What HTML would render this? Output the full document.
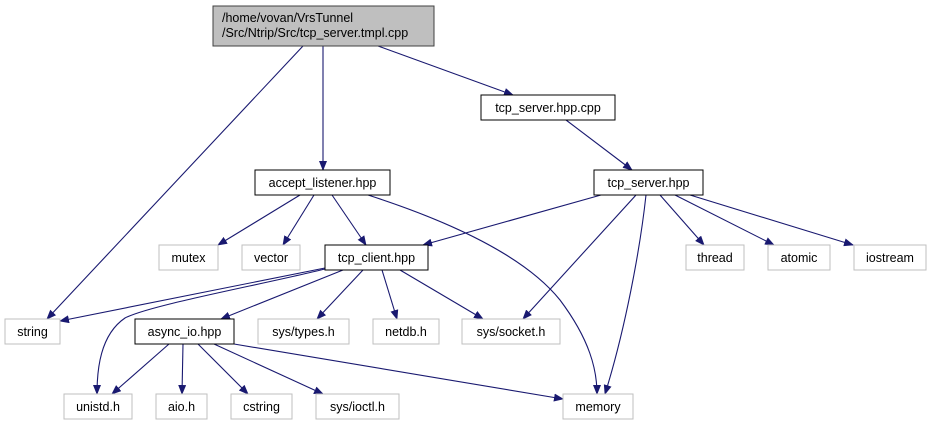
<!DOCTYPE html>
<html><head><style>body{margin:0;background:#fff}</style></head><body>
<svg width="931" height="425" xmlns="http://www.w3.org/2000/svg" font-family="Liberation Sans, sans-serif" font-size="12.5">
<defs><marker id="a" markerWidth="10" markerHeight="8" refX="9" refY="4" orient="auto" markerUnits="userSpaceOnUse"><path d="M0,0L10,4L0,8z" fill="#191970"/></marker></defs>
<g stroke="#191970" stroke-width="1.1" fill="none" marker-end="url(#a)">
<path d="M303,46L47,319"/>
<path d="M323,46L323,170"/>
<path d="M378,46L513,95"/>
<path d="M566,120L632,170"/>
<path d="M300,195L218,245"/>
<path d="M314,195L283,245"/>
<path d="M332,195L366,245"/>
<path d="M368,195C430,215 520,250 560,300C590,340 597,370 597,394"/>
<path d="M601,195L423,245"/>
<path d="M636,195L523,319"/>
<path d="M646,195C640,250 625,330 605,394"/>
<path d="M660,195L704,245"/>
<path d="M675,195L774,245"/>
<path d="M690,195L853,245"/>
<path d="M325,268L60,321"/>
<path d="M325,269C260,285 150,305 125,318C100,335 97,370 97,394"/>
<path d="M343,270L221,319"/>
<path d="M363,270L317,319"/>
<path d="M382,270L397,319"/>
<path d="M400,270L483,319"/>
<path d="M169,344L112,394"/>
<path d="M183,344L182,394"/>
<path d="M198,344L248,394"/>
<path d="M214,344L323,394"/>
<path d="M234,344L563,399"/>
</g>
<g stroke-width="1">
<rect x="213" y="6" width="221" height="40" fill="#bfbfbf" stroke="#404040"/>
<g fill="#fff" stroke="#000">
<rect x="255" y="170" width="135" height="25"/>
<rect x="325" y="245" width="103" height="25"/>
<rect x="135" y="319" width="99" height="25"/>
<rect x="481" y="95" width="134" height="25"/>
<rect x="594" y="170" width="109" height="25"/>
</g>
<g fill="#fff" stroke="#bfbfbf">
<rect x="159" y="245" width="59" height="25"/>
<rect x="242" y="245" width="58" height="25"/>
<rect x="5" y="319" width="55" height="25"/>
<rect x="258" y="319" width="91" height="25"/>
<rect x="373" y="319" width="66" height="25"/>
<rect x="462" y="319" width="98" height="25"/>
<rect x="64" y="394" width="68" height="25"/>
<rect x="156" y="394" width="51" height="25"/>
<rect x="231" y="394" width="61" height="25"/>
<rect x="316" y="394" width="83" height="25"/>
<rect x="563" y="394" width="70" height="25"/>
<rect x="686" y="245" width="58" height="25"/>
<rect x="768" y="245" width="62" height="25"/>
<rect x="854" y="245" width="72" height="25"/>
</g></g>
<g fill="#000">
<text x="222" y="22">/home/vovan/VrsTunnel</text>
<text x="222" y="37">/Src/Ntrip/Src/tcp_server.tmpl.cpp</text>
</g>
<g fill="#000" text-anchor="middle">
<text x="322.5" y="187">accept_listener.hpp</text>
<text x="376.5" y="262">tcp_client.hpp</text>
<text x="184.5" y="336">async_io.hpp</text>
<text x="548" y="112">tcp_server.hpp.cpp</text>
<text x="648.5" y="187">tcp_server.hpp</text>
<text x="188.5" y="262">mutex</text>
<text x="271" y="262">vector</text>
<text x="32.5" y="336">string</text>
<text x="303.5" y="336">sys/types.h</text>
<text x="406" y="336">netdb.h</text>
<text x="511" y="336">sys/socket.h</text>
<text x="98" y="411">unistd.h</text>
<text x="181.5" y="411">aio.h</text>
<text x="261.5" y="411">cstring</text>
<text x="357.5" y="411">sys/ioctl.h</text>
<text x="598" y="411">memory</text>
<text x="715" y="262">thread</text>
<text x="799" y="262">atomic</text>
<text x="890" y="262">iostream</text>
</g>
</svg>
</body></html>
